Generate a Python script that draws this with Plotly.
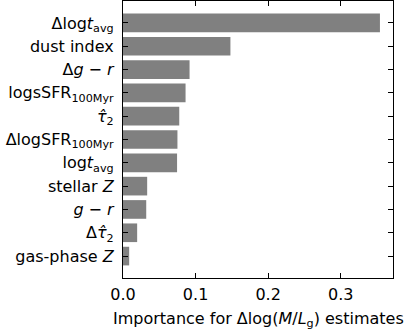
import plotly.graph_objects as go

labels = [
    "Δlog<i>t</i><sub>avg</sub>",
    "dust index",
    "Δ<i>g</i> − <i>r</i>",
    "logsSFR<sub>100Myr</sub>",
    "<i>τ̂</i><sub>2</sub>",
    "ΔlogSFR<sub>100Myr</sub>",
    "log<i>t</i><sub>avg</sub>",
    "stellar <i>Z</i>",
    "<i>g</i> − <i>r</i>",
    "Δ<i>τ̂</i><sub>2</sub>",
    "gas-phase <i>Z</i>",
]
importance = [0.354, 0.148, 0.0917, 0.0862, 0.0775, 0.075, 0.0745, 0.0333, 0.032, 0.0195, 0.0085]
x_ticks = [0.0, 0.1, 0.2, 0.3]
x_ticklabels = ["0.0", "0.1", "0.2", "0.3"]
x_title = "Importance for Δlog(<i>M</i>/<i>L</i><sub>g</sub>) estimates"

font = dict(family="DejaVu Sans", size=16, color="black")

fig = go.Figure(go.Bar(
    x=importance, y=labels, orientation="h",
    marker=dict(color="#808080", line=dict(width=0)),
    width=0.8,
))

fig.update_layout(
    width=415, height=331,
    margin=dict(l=123, r=22, t=1, b=53),
    paper_bgcolor="white", plot_bgcolor="white",
    font=font, showlegend=False, bargap=0.2,
)
fig.update_xaxes(
    range=[0, 0.372], tickvals=x_ticks, ticktext=x_ticklabels,
    ticks="inside", ticklen=5, tickwidth=1.2, tickcolor="black",
    showline=True, linecolor="black", linewidth=1.2, mirror="ticks",
    showgrid=False, zeroline=False, automargin=False,
    tickfont=font, ticklabelstandoff=2,
)
fig.update_yaxes(
    type="category", categoryorder="array", categoryarray=labels,
    range=[10.94, -0.94],
    ticks="inside", ticklen=5, tickwidth=1.2, tickcolor="black",
    showline=True, linecolor="black", linewidth=1.2, mirror="ticks",
    showgrid=False, zeroline=False, automargin=False,
    tickfont=font, ticklabelstandoff=5,
)
fig.add_annotation(
    text=x_title, xref="paper", yref="paper", x=0.5, y=0,
    xanchor="center", yanchor="top", yshift=-29, showarrow=False, font=font,
)

fig.write_html(
    "out.html",
    config={"displayModeBar": False},
    post_script="document.body.style.margin='0';document.body.style.overflow='hidden';",
)
